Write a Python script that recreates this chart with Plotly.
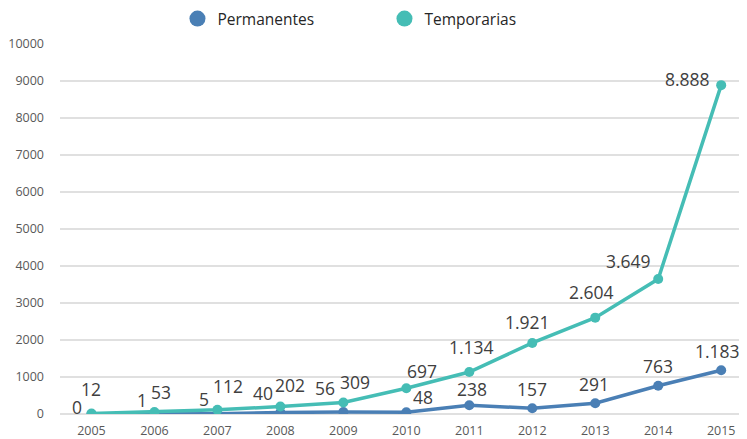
import plotly.graph_objects as go

years = ["2005", "2006", "2007", "2008", "2009", "2010", "2011", "2012", "2013", "2014", "2015"]
permanentes = [0, 1, 5, 40, 56, 48, 238, 157, 291, 763, 1183]
temporarias = [12, 53, 112, 202, 309, 697, 1134, 1921, 2604, 3649, 8888]
y_ticks = [0, 1000, 2000, 3000, 4000, 5000, 6000, 7000, 8000, 9000, 10000]

# label offsets in pixels (dx right, dy up) — styling only
perm_dx = [-14, -12, -13, -17, -18, 17, 3, 0, -1, 0, -4]
perm_dy = [7, 14, 15, 20, 24, 15, 16, 19, 19, 20, 19]
temp_dx = [0, 7, 11, 10, 12, 16, 2, -5, -4, -30, -34]
temp_dy = [25, 20, 24, 22, 21, 17, 25, 21, 26, 18, 6]

BLUE = "#4a7fb5"
TEAL = "#45bdb5"
FONT = "Open Sans, Noto Sans, sans-serif"


def fmt(v):
    return f"{v:,}".replace(",", ".")


fig = go.Figure()
for name, vals, color in [("Permanentes", permanentes, BLUE), ("Temporarias", temporarias, TEAL)]:
    fig.add_trace(go.Scatter(
        x=years, y=vals, name=name, mode="lines+markers", legendgroup=name,
        showlegend=False,
        line=dict(color=color, width=3.5), marker=dict(color=color, size=10),
    ))
for name, color in [("Permanentes", BLUE), ("Temporarias", TEAL)]:
    fig.add_trace(go.Scatter(
        x=[years[0]], y=[None], name=name, mode="markers", legendgroup=name,
        marker=dict(color=color, size=16),
    ))

annotations = []
for vals, dxs, dys in [(permanentes, perm_dx, perm_dy), (temporarias, temp_dx, temp_dy)]:
    for i, (v, dx, dy) in enumerate(zip(vals, dxs, dys)):
        annotations.append(dict(x=i, y=v, xref="x", yref="y", text=fmt(v),
                                showarrow=False, xshift=dx, yshift=dy,
                                xanchor="center", yanchor="middle",
                                font=dict(size=17.5, color="#404040", family=FONT)))

fig.update_layout(
    width=739, height=431,
    margin=dict(l=52, r=0, t=36, b=25, autoexpand=False),
    paper_bgcolor="white", plot_bgcolor="white",
    font=dict(family=FONT, color="#595959", size=12),
    legend=dict(orientation="h", x=0.171, xanchor="left",
                y=1.0676, yanchor="middle",
                font=dict(size=15.5, color="#262626"),
                entrywidth=162, entrywidthmode="pixels"),
    showlegend=True,
    annotations=annotations,
)
fig.update_xaxes(type="category", range=[-0.5, 10.41], showgrid=False, showline=False,
                 ticks="", ticklabelstandoff=7, tickfont=dict(size=12.5, color="#595959"))
fig.update_yaxes(range=[0, 10000], tickvals=y_ticks, tickformat="d",
                 showgrid=True, gridcolor="#e0e0e0", gridwidth=1.5, zeroline=True,
                 zerolinecolor="#e0e0e0", zerolinewidth=1.5,
                 ticks="", ticklabelstandoff=15, tickfont=dict(size=12.5, color="#595959"))

fig.write_html("out.html")
